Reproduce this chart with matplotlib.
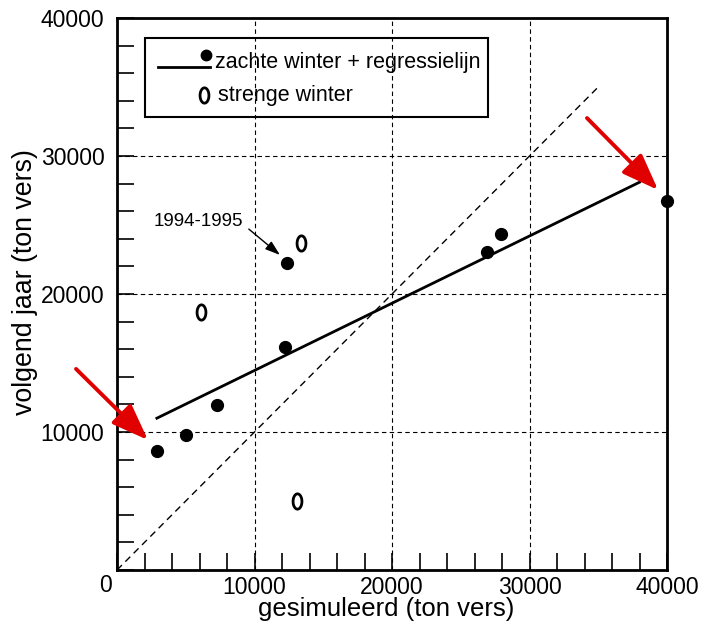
import matplotlib
matplotlib.use("Agg")
import matplotlib.pyplot as plt
from matplotlib.path import Path
from matplotlib.ticker import MultipleLocator, FixedLocator
import matplotlib.transforms as mtransforms
import numpy as np

plt.rcParams['font.family'] = ['Liberation Sans', 'DejaVu Sans']

# zachte winter (gevuld)
zacht_x = [2900, 5000, 7300, 12200, 12350, 26900, 27900, 40000]
zacht_y = [8600, 9800, 11950, 16150, 22250, 23050, 24350, 26750]
# strenge winter (open)
streng_x = [6100, 13400, 13100]
streng_y = [18700, 23700, 5000]
# regressielijn
regr_x = [2900, 38000]
regr_y = [11000, 28100]
# y = x lijn
diag = [0, 35000]

# open ellips marker
t = np.linspace(0, 2 * np.pi, 60)
ellips = Path(np.column_stack([0.58 * np.cos(t), np.sin(t)]), closed=True)

fig = plt.figure(figsize=(7.02, 6.26), dpi=100)
ax = fig.add_axes([117/702, 56/626, 550/702, 552/626])

ax.plot(diag, diag, color='black', lw=1.0, ls=(0, (5, 3.5)), zorder=2)
ax.plot(regr_x, regr_y, color='black', lw=2.0, zorder=3)
ax.plot(zacht_x, zacht_y, 'o', color='black', ms=8.5, zorder=4, clip_on=False)
ax.plot(streng_x, streng_y, ls='none', marker=ellips, ms=11, mfc='none',
        mec='black', mew=2.0, zorder=4)

ax.set_xlim(0, 40000)
ax.set_ylim(0, 40000)
ax.xaxis.set_major_locator(FixedLocator([0, 10000, 20000, 30000, 40000]))
ax.yaxis.set_major_locator(FixedLocator([0, 10000, 20000, 30000, 40000]))
ax.xaxis.set_minor_locator(MultipleLocator(2000))
ax.yaxis.set_minor_locator(MultipleLocator(2000))
ax.set_xticklabels(['', '10000', '20000', '30000', '40000'])
ax.set_yticklabels(['', '10000', '20000', '30000', '40000'])
ax.tick_params(which='both', direction='in', length=12, width=1.2,
               top=False, right=False, labelsize=16.5, pad=4)
ax.tick_params(axis='y', pad=9)
ax.text(0, 0, '0', fontsize=16.5, ha='center', va='top',
        transform=ax.transData + mtransforms.ScaledTranslation(-12/100, -4/100, fig.dpi_scale_trans))
for s in ax.spines.values():
    s.set_linewidth(2.0)

ax.grid(True, which='major', color='black', lw=0.8, ls=(0, (4, 3)))
ax.set_axisbelow(True)

ax.set_xlabel('gesimuleerd (ton vers)', fontsize=18.5, labelpad=-1, x=0.489)
ax.set_ylabel('volgend jaar (ton vers)', fontsize=19.3, labelpad=2, y=0.522)

# rode pijlen
rood = dict(arrowstyle='-|>,head_length=1.6,head_width=0.6', color='#e00000',
            lw=2.8, shrinkA=0, shrinkB=0, mutation_scale=14)
ax.annotate('', xy=(2250, 9420), xytext=(-2980, 14570), arrowprops=rood,
            annotation_clip=False)
ax.annotate('', xy=(39350, 27540), xytext=(34180, 32750), arrowprops=rood,
            annotation_clip=False)

ax.annotate('1994-1995', xy=(11850, 22830), xytext=(9150, 25250),
            fontsize=13.5, ha='right', va='center',
            arrowprops=dict(arrowstyle='-|>,head_length=0.9,head_width=0.3',
                            color='black', lw=1.0, shrinkA=3, shrinkB=0,
                            relpos=(1.0, 0.35), mutation_scale=10))

# legenda
ax.add_patch(plt.Rectangle((0.051, 0.821), 0.624, 0.143, transform=ax.transAxes,
                           fill=False, ec='black', lw=1.5, zorder=5))
ax.plot([0.075, 0.169], [0.911, 0.911], color='black', lw=2.0,
        transform=ax.transAxes, zorder=6)
ax.plot([0.162], [0.933], 'o', color='black', ms=7.5, transform=ax.transAxes, zorder=6)
ax.text(0.178, 0.920, 'zachte winter + regressielijn', fontsize=15.5,
        va='center', transform=ax.transAxes, zorder=6)
ax.plot([0.159], [0.860], ls='none', marker=ellips, ms=11, mfc='none', mec='black',
        mew=2.0, transform=ax.transAxes, zorder=6)
ax.text(0.183, 0.860, 'strenge winter', fontsize=15.5, va='center',
        transform=ax.transAxes, zorder=6)

fig.savefig('out.png', dpi=100)
